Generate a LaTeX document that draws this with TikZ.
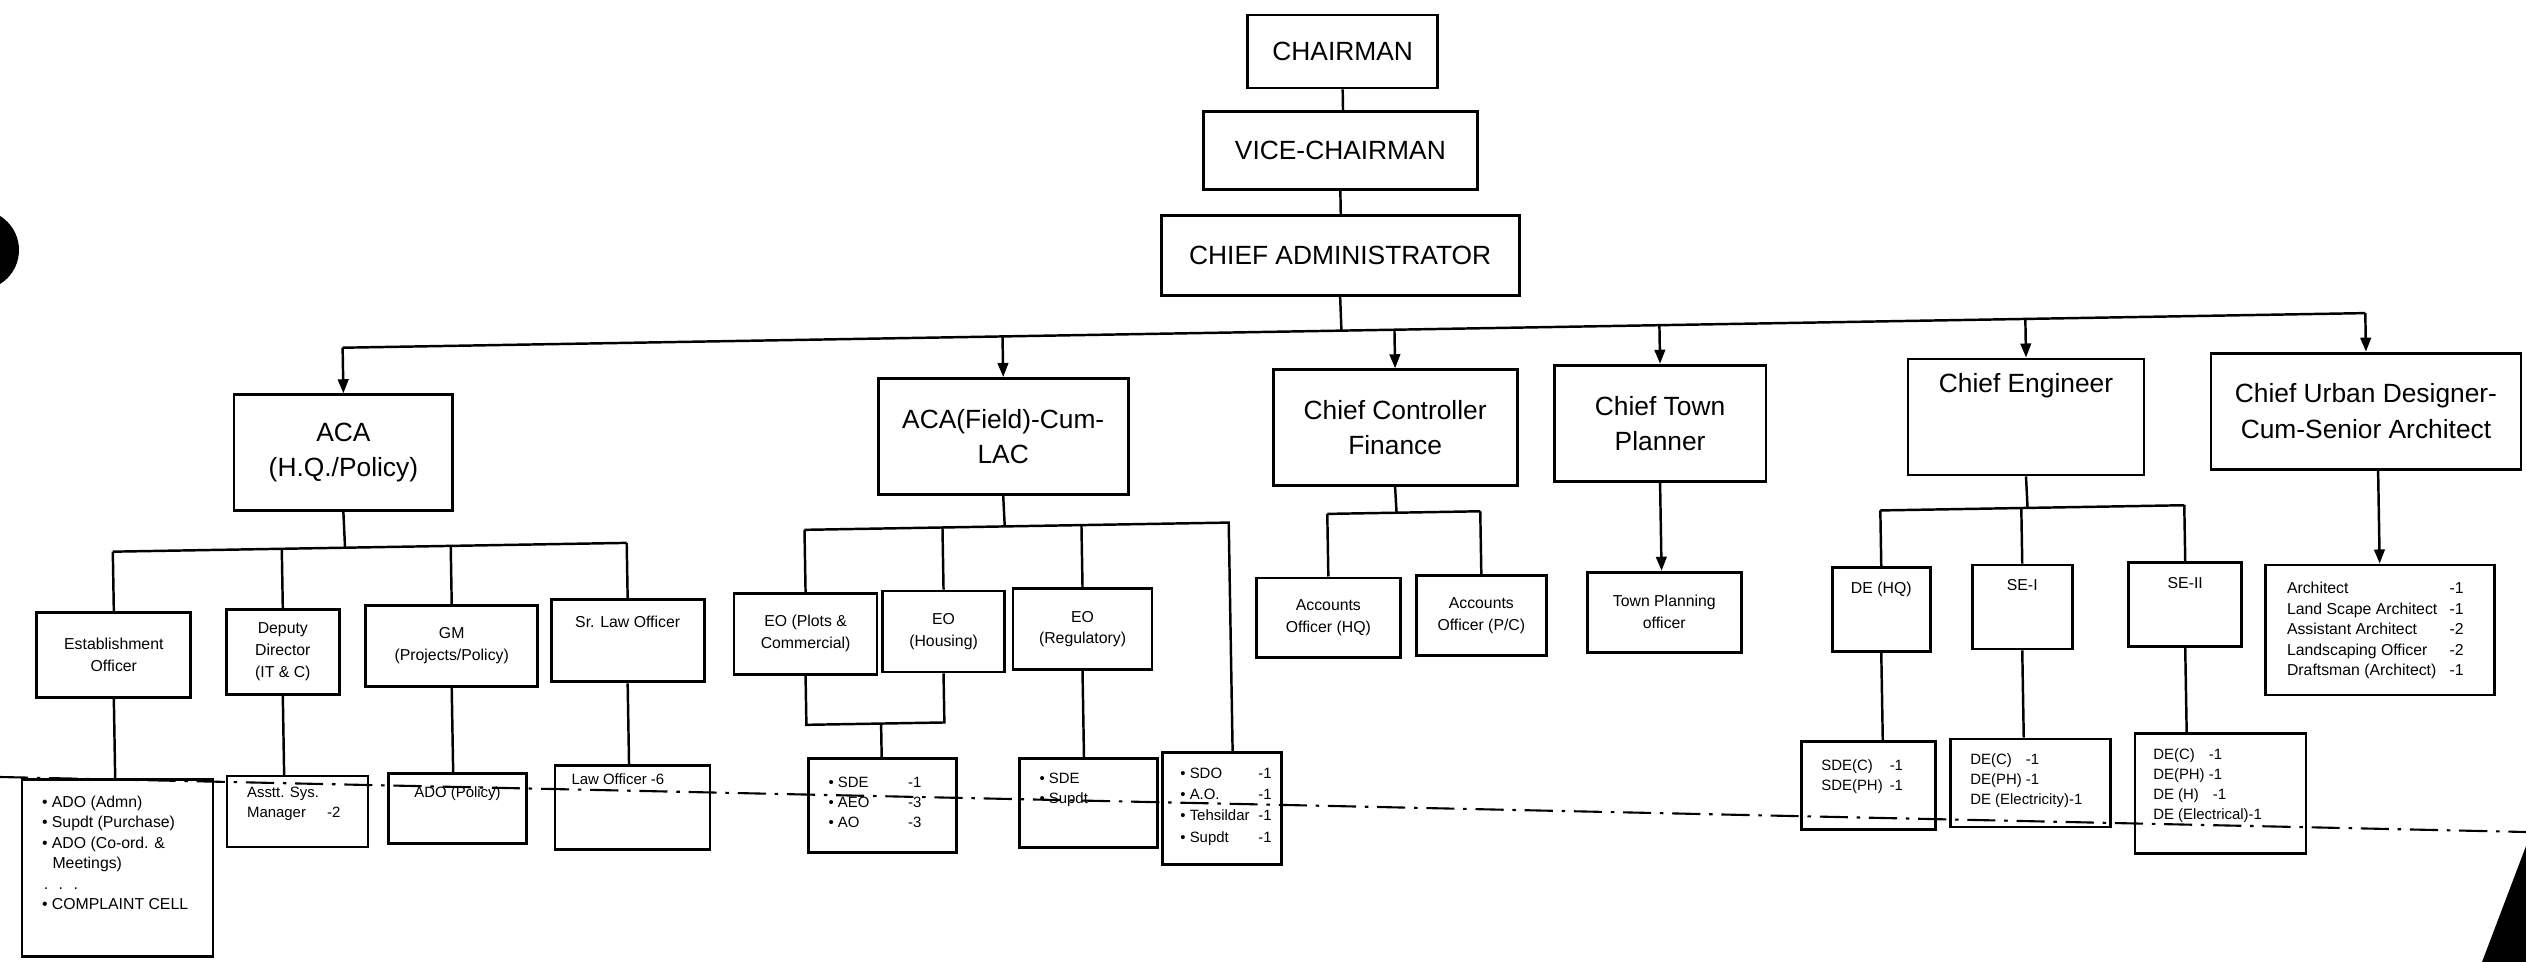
\documentclass[tikz,border=0pt]{standalone}
\usepackage{fontspec}
\setmainfont{Liberation Sans}
\usetikzlibrary{arrows.meta,positioning}
\newcommand{\bul}{\textbullet\ }

\begin{document}
\begin{tikzpicture}[x=0.02cm,y=-0.02cm,
  box/.style={draw,line width=1.6pt,inner sep=2pt,align=center},
  hd/.style={font=\fontsize{15}{20}\selectfont},
  md/.style={font=\fontsize{9}{12.5}\selectfont},
  sm/.style={font=\fontsize{8.5}{11.5}\selectfont,align=left,inner sep=0pt},
  wire/.style={line width=1.4pt},
  arr/.style={wire,-{Triangle[length=8pt,width=6pt]}},
  fold/.style={line width=1.2pt,dash pattern=on 16pt off 5pt on 2pt off 5pt}]
  \useasboundingbox (0,0) rectangle (2526,962);
  \fill[white] (0,0) rectangle (2526,962);

  % the sheet lies a little askew on the scanner
  \begin{scope}[rotate around={0.98:(1263,480)}]
  % top of the chart
  \node[box,hd,minimum width=3.8cm,minimum height=1.46cm] (chair) at (1350,53) {CHAIRMAN};
  \node[box,hd,minimum width=5.48cm,minimum height=1.56cm] (vice) at (1346,152) {VICE-CHAIRMAN};
  \node[box,hd,minimum width=7.16cm,minimum height=1.6cm] (admin) at (1344,257) {CHIEF ADMINISTRATOR};
  \draw[wire] (chair.south) -- (chair.south |- vice.north);
  \draw[wire] (vice.south) -- (vice.south |- admin.north);

  % wing heads
  \foreach \n/\x/\y/\w/\t in {acahq/344/437/4.38/{ACA\\(H.Q./Policy)}, acaf/1004/432/5.0/{ACA(Field)-Cum-\\LAC}, ccf/1396/430/4.88/{Chief Controller\\Finance}, ctp/1661/430/4.24/{Chief Town\\Planner}, cud/2367/430/6.2/{Chief Urban Designer-\\Cum-Senior Architect}}
    { \node[box,hd,minimum width=\w cm,minimum height=2.32cm] (\n) at (\x,\y) {\t}; }
  \node[box,minimum width=4.72cm,minimum height=2.32cm] (ce) at (2027,430) {};
  \node[hd,inner sep=0pt,below=9pt of ce.north] (ce-t) {Chief Engineer};
  \coordinate (mbus) at (1344,332);
  \draw[wire] (admin.south) -- (mbus);
  \draw[wire] (acahq.north |- mbus) -- (cud.north |- mbus);
  \foreach \n in {acahq,acaf,ccf,ctp,ce,cud}
    { \draw[arr] (\n.north |- mbus) -- (\n.north); }

  % under ACA (H.Q./Policy)
  \node[box,md,minimum width=3.08cm,minimum height=1.7cm] (eo) at (111,635) {Establishment\\Officer};
  \node[box,md,minimum width=2.26cm,minimum height=1.7cm] (ddit) at (280,635) {Deputy\\Director\\(IT \& C)};
  \node[box,md,minimum width=3.44cm,minimum height=1.62cm] (gm) at (449,632) {GM\\(Projects/Policy)};
  \node[box,minimum width=3.06cm,minimum height=1.64cm] (slo) at (625,630) {};
  \node[md,inner sep=0pt,below=10pt of slo.north] (slo-t) {Sr. Law Officer};
  \node[box,minimum width=3.82cm,minimum height=3.54cm] (eo-s) at (111,848) {};
  \node[sm,font=\fontsize{9}{11.7}\selectfont,below right=10pt and 12pt of eo-s.north west] (eo-l)
    {\bul ADO (Admn)\\\bul Supdt (Purchase)\\\bul ADO (Co-ord. \&\\\hspace*{6pt}Meetings)\\\hspace*{1pt}.\hspace{6pt}.\hspace{6pt}.\\\bul COMPLAINT CELL};
  \node[box,minimum width=2.82cm,minimum height=1.42cm] (ddit-s) at (292,795) {};
  \node[sm,below right=7pt and 12pt of ddit-s.north west] (ddit-l) {Asstt. Sys.\\Manager\hspace{12pt}-2};
  \node[box,minimum width=2.76cm,minimum height=1.4cm] (gm-s) at (452,795) {};
  \node[sm,below=8pt of gm-s.north] (gm-l) {ADO (Policy)};
  \node[box,minimum width=3.1cm,minimum height=1.68cm] (slo-s) at (627,797) {};
  \node[sm,below right=5pt and 10pt of slo-s.north west] (slo-l) {Law Officer -6};
  \coordinate (hqbus) at (344,532);
  \draw[wire] (acahq.south) -- (hqbus);
  \draw[wire] (eo.north |- hqbus) -- (slo.north |- hqbus);
  \foreach \n in {eo,ddit,gm,slo}
    { \draw[wire] (\n.north |- hqbus) -- (\n.north);
      \draw[wire] (\n.south) -- (\n.south |- \n-s.north); }

  % under ACA(Field)-Cum-LAC
  \node[box,md,minimum width=2.86cm,minimum height=1.62cm] (eopc) at (803,626) {EO (Plots \&\\Commercial)};
  \node[box,md,minimum width=2.44cm,minimum height=1.62cm] (eoh) at (941,626) {EO\\(Housing)};
  \node[box,md,minimum width=2.78cm,minimum height=1.62cm] (eor) at (1080,626) {EO\\(Regulatory)};
  \node[box,minimum width=2.96cm,minimum height=1.88cm] (pch-s) at (877,799) {};
  \node[sm,below right=9pt and 12pt of pch-s.north west] (pch-l)
    {\begin{tabular}{@{}l@{\hspace{22pt}}l@{}}\bul SDE & -1\\\bul AEO & -3\\\bul AO & -3\end{tabular}};
  \node[box,minimum width=2.76cm,minimum height=1.78cm] (eor-s) at (1083,800) {};
  \node[sm,below right=9pt and 12pt of eor-s.north west] (eor-l) {\bul SDE\\\bul Supdt};
  \node[box,minimum width=2.38cm,minimum height=2.24cm] (lac-s) at (1216,808) {};
  \node[sm,font=\fontsize{8.5}{12}\selectfont,below right=7pt and 11pt of lac-s.north west] (lac-l)
    {\begin{tabular}{@{}l@{\hspace{5pt}}l@{}}\bul SDO & -1\\\bul A.O. & -1\\\bul Tehsildar & -1\\\bul Supdt & -1\end{tabular}};
  \coordinate (fbus) at (1004,522);
  \coordinate (fbus-e) at (1228,522);
  \coordinate (brk) at (877,717);
  \draw[wire] (acaf.south) -- (fbus);
  \draw[wire] (eopc.north |- fbus) -- (fbus-e) -- (fbus-e |- lac-s.north);
  \foreach \n in {eopc,eoh,eor}
    { \draw[wire] (\n.north |- fbus) -- (\n.north); }
  \draw[wire] (eopc.south) -- (eopc.south |- brk) -- (eoh.south |- brk) -- (eoh.south);
  \draw[wire] (brk) -- (brk |- pch-s.north);
  \draw[wire] (eor.south) -- (eor.south |- eor-s.north);

  % finance and town planning
  \node[box,md,minimum width=2.88cm,minimum height=1.6cm] (aohq) at (1326,619) {Accounts\\Officer (HQ)};
  \node[box,md,minimum width=2.6cm,minimum height=1.6cm] (aopc) at (1479,619) {Accounts\\Officer (P/C)};
  \node[box,md,minimum width=3.08cm,minimum height=1.6cm] (tpo) at (1662,619) {Town Planning\\officer};
  \coordinate (cbus) at (1396,515);
  \draw[wire] (ccf.south) -- (cbus);
  \draw[wire] (aohq.north |- cbus) -- (aopc.north |- cbus);
  \foreach \n in {aohq,aopc}
    { \draw[wire] (\n.north |- cbus) -- (\n.north); }
  \draw[arr] (ctp.south) -- (ctp.south |- tpo.north);

  % engineering wing
  \foreach \n/\x/\w/\t in {deh/1879/1.96/{DE (HQ)}, se1/2020/2.0/{SE-I}, se2/2183/2.26/{SE-II}}
    { \node[box,minimum width=\w cm,minimum height=1.68cm] (\n) at (\x,620) {};
      \node[md,inner sep=0pt,below=9pt of \n.north] (\n-t) {\t}; }
  \node[box,minimum width=2.68cm,minimum height=1.76cm] (deh-s) at (1863,796) {};
  \node[sm,below right=9pt and 12pt of deh-s.north west] (deh-l)
    {\begin{tabular}{@{}l@{\hspace{4pt}}l@{}}SDE(C) & -1\\SDE(PH) & -1\end{tabular}};
  \node[box,minimum width=3.2cm,minimum height=1.76cm] (se1-s) at (2025,796) {};
  \node[sm,below right=9pt and 12pt of se1-s.north west] (se1-l) {DE(C)\hspace{8pt}-1\\DE(PH) -1\\DE (Electricity)-1};
  \node[box,minimum width=3.42cm,minimum height=2.4cm] (se2-s) at (2215,810) {};
  \node[sm,below right=9pt and 11pt of se2-s.north west] (se2-l) {DE(C)\hspace{8pt}-1\\DE(PH) -1\\DE (H)\hspace{8pt}-1\\DE (Electrical)-1};
  \coordinate (ebus) at (2027,521);
  \draw[wire] (ce.south) -- (ebus);
  \draw[wire] (deh.north |- ebus) -- (se2.north |- ebus);
  \foreach \n in {deh,se1,se2}
    { \draw[wire] (\n.north |- ebus) -- (\n.north);
      \draw[wire] (\n.south) -- (\n.south |- \n-s.north); }

  % architecture wing
  \node[box,minimum width=4.58cm,minimum height=2.6cm] (arch) at (2377,649) {};
  \node[sm,font=\fontsize{9}{11.6}\selectfont,below right=9pt and 13pt of arch.north west] (arch-l)
    {\begin{tabular}{@{}l@{\hspace{7pt}}l@{}}Architect & -1\\Land Scape Architect & -1\\Assistant Architect & -2\\Landscaping Officer & -2\\Draftsman (Architect) & -1\end{tabular}};
  \draw[arr] (arch.north |- cud.south) -- (arch.north);
  \end{scope}

  % fold line and scan marks
  \draw[fold] (0,777) -- (2526,832);
  \fill (-21,250) circle [radius=0.8cm];
  \fill (2482,962) -- (2526,846) -- (2526,962) -- cycle;
\end{tikzpicture}
\end{document}
